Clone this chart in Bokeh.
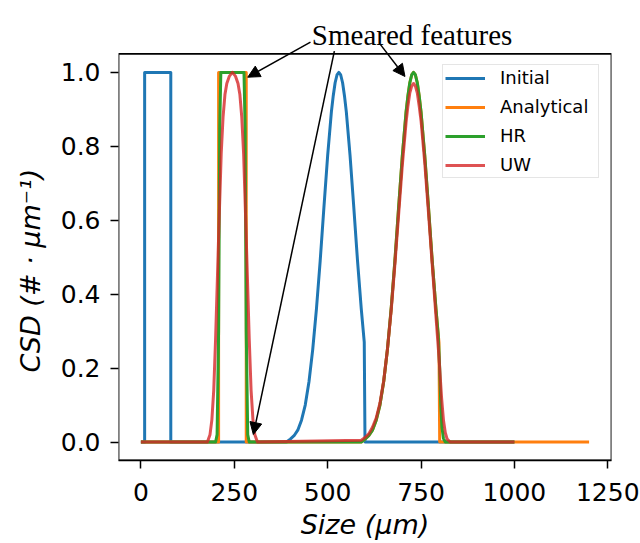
from bokeh.plotting import figure
from bokeh.models import (FixedTicker, Label, Arrow, NormalHead, Legend, LegendItem,
                          ColumnDataSource, PrintfTickFormatter, BoxAnnotation, Title)
from bokeh.embed import file_html
from bokeh.resources import INLINE

# ---- data ----
initial_x = [0, 10, 10, 80, 80, 390, 400, 410, 420, 430, 440, 450, 460, 470, 480,
             490, 500, 510, 515, 520, 525, 530, 535, 540, 545, 550, 560, 570, 580,
             590, 598, 600, 1000]
initial_y = [0, 0, 1, 1, 0, 0.0, 0.008, 0.017, 0.032, 0.059, 0.10, 0.163, 0.25, 0.36,
             0.49, 0.635, 0.775, 0.893, 0.937, 0.972, 0.993, 1.0, 0.993, 0.972, 0.937,
             0.893, 0.775, 0.635, 0.49, 0.36, 0.27, 0, 0]

analytical_x = [0, 208, 208, 282, 282, 590, 600, 610, 620, 630, 640, 650, 660, 670, 680,
                690, 700, 710, 715, 720, 725, 730, 735, 740, 745, 750, 760, 770, 780,
                790, 798, 800, 1200]
analytical_y = [0, 0, 1, 1, 0, 0.0, 0.008, 0.017, 0.032, 0.059, 0.10, 0.163, 0.25, 0.36,
                0.49, 0.635, 0.775, 0.893, 0.937, 0.972, 0.993, 1.0, 0.993, 0.972, 0.937,
                0.893, 0.775, 0.635, 0.49, 0.36, 0.27, 0, 0]

hr_x = [0, 200, 204, 208, 211, 214, 276, 279, 282, 286, 290, 590, 600, 610, 620, 630,
        640, 650, 660, 670, 680, 690, 700, 710, 715, 720, 725, 730, 735, 740, 745, 750,
        760, 770, 780, 790, 796, 800, 803, 806, 810, 815, 1000]
hr_y = [0, 0, 0.02, 0.3, 0.85, 1.0, 1.0, 0.85, 0.3, 0.02, 0, 0.0, 0.008, 0.017, 0.032,
        0.059, 0.10, 0.163, 0.25, 0.36, 0.49, 0.635, 0.775, 0.893, 0.937, 0.972, 0.993,
        1.0, 0.993, 0.972, 0.937, 0.893, 0.775, 0.635, 0.49, 0.36, 0.29, 0.2, 0.1, 0.04,
        0.01, 0, 0]

uw_x = [0, 178, 185, 190, 195, 200, 205, 210, 215, 220, 225, 230, 237, 245, 253, 260,
        265, 270, 275, 280, 285, 290, 295, 300, 305, 312, 590, 600, 610, 620, 630, 640,
        650, 660, 670, 680, 690, 700, 710, 715, 720, 725, 730, 735, 740, 745, 750, 760,
        770, 780, 790, 798, 805, 810, 815, 820, 828, 1000]
uw_y = [0, 0, 0.02, 0.06, 0.14, 0.28, 0.45, 0.62, 0.78, 0.88, 0.94, 0.97, 0.99, 1.0,
        0.99, 0.97, 0.94, 0.88, 0.78, 0.62, 0.45, 0.28, 0.14, 0.06, 0.02, 0, 0.005,
        0.012, 0.022, 0.04, 0.065, 0.105, 0.165, 0.25, 0.355, 0.48, 0.615, 0.75, 0.865,
        0.91, 0.945, 0.963, 0.97, 0.963, 0.945, 0.91, 0.87, 0.755, 0.62, 0.48, 0.34,
        0.23, 0.12, 0.06, 0.025, 0.008, 0, 0]

series_names = ["Initial", "Analytical", "HR", "UW"]
x_ticks = [0, 250, 500, 750, 1000, 1250]
y_ticks = [0.0, 0.2, 0.4, 0.6, 0.8, 1.0]

colors = ["#1f77b4", "#ff7f0e", "#2ca02c", "#d62728"]
alphas = [1.0, 1.0, 1.0, 0.8]

# axes box (the visible frame) in data units
box_x = (-60, 1260)
box_y = (-0.05, 1.05)

p = figure(width=640, height=543, x_range=box_x, y_range=(-0.05, 1.181),
           output_backend="svg", toolbar_location=None,
           min_border_left=118, min_border_right=29, min_border_top=5,
           min_border_bottom=83)
p.background_fill_color = "white"
p.border_fill_color = "white"
p.xgrid.visible = False
p.ygrid.visible = False
p.outline_line_color = None

p.add_layout(BoxAnnotation(left=box_x[0], right=box_x[1], bottom=box_y[0], top=box_y[1],
                           fill_color=None, fill_alpha=0, line_color="black",
                           line_alpha=1.0, line_width=1.8))

data = [(initial_x, initial_y), (analytical_x, analytical_y), (hr_x, hr_y), (uw_x, uw_y)]
items = []
for (xs, ys), name, c, a in zip(data, series_names, colors, alphas):
    src = ColumnDataSource(dict(x=xs, y=ys))
    r = p.line("x", "y", source=src, line_color=c, line_width=3, line_alpha=a,
               line_join="round")
    items.append(LegendItem(label=name, renderers=[r]))

legend = Legend(items=items, location=(324, 282))
legend.label_text_font = "DejaVu Sans"
legend.label_text_font_size = "18px"
legend.label_text_color = "black"
legend.label_height = 20
legend.label_width = 96
legend.glyph_height = 20
legend.glyph_width = 40
legend.label_standoff = 15
legend.spacing = 8
legend.padding = 2
legend.margin = 0
legend.border_line_color = "#cccccc"
legend.border_line_width = 1.5
legend.background_fill_alpha = 0.8
p.add_layout(legend)

for ax in (p.xaxis[0], p.yaxis[0]):
    ax.major_label_text_font = "DejaVu Sans"
    ax.major_label_text_font_size = "25px"
    ax.major_label_text_color = "black"
    ax.axis_label_text_font = "DejaVu Sans"
    ax.axis_label_text_font_size = "27px"
    ax.axis_label_text_font_style = "italic"
    ax.axis_label_text_color = "black"
    ax.major_tick_out = 8
    ax.major_tick_in = 0
    ax.minor_tick_out = 0
    ax.minor_tick_in = 0
    ax.major_tick_line_width = 1.5
    ax.major_tick_line_color = "black"

p.xaxis[0].axis_line_width = 1.5
p.xaxis[0].axis_line_color = "black"
p.yaxis[0].axis_line_color = None

p.xaxis[0].ticker = FixedTicker(ticks=x_ticks)
p.yaxis[0].ticker = FixedTicker(ticks=y_ticks)
p.yaxis[0].formatter = PrintfTickFormatter(format="%.1f")
p.xaxis[0].axis_label = "Size (μm)"
p.xaxis[0].major_label_standoff = 14
p.xaxis[0].axis_label_standoff = 5
p.yaxis[0].major_label_standoff = 10

# y-axis label as a side title so it can be centred on the visible box
p.add_layout(Title(text="CSD (# · μm⁻¹)", align="left", offset=88, standoff=24,
                   text_font="DejaVu Sans", text_font_size="27px",
                   text_font_style="italic", text_color="black"), "left")

# ---- annotation ----
p.add_layout(Label(x=726, y=1.100, text="Smeared features", text_font="Liberation Serif",
                   text_font_size="29px", text_align="center", text_baseline="alphabetic",
                   text_color="black"))
arrows = [((454, 1.082), (286, 0.987)),
          ((518, 1.0576), (301, 0.0203)),
          ((641, 1.0758), (707, 0.989))]
for (xs, ys), (xe, ye) in arrows:
    p.add_layout(Arrow(x_start=xs, y_start=ys, x_end=xe, y_end=ye, line_width=1.5,
                       line_color="black",
                       end=NormalHead(size=12, fill_color="black", line_color="black")))

open("out.html", "w").write(file_html(p, INLINE))
